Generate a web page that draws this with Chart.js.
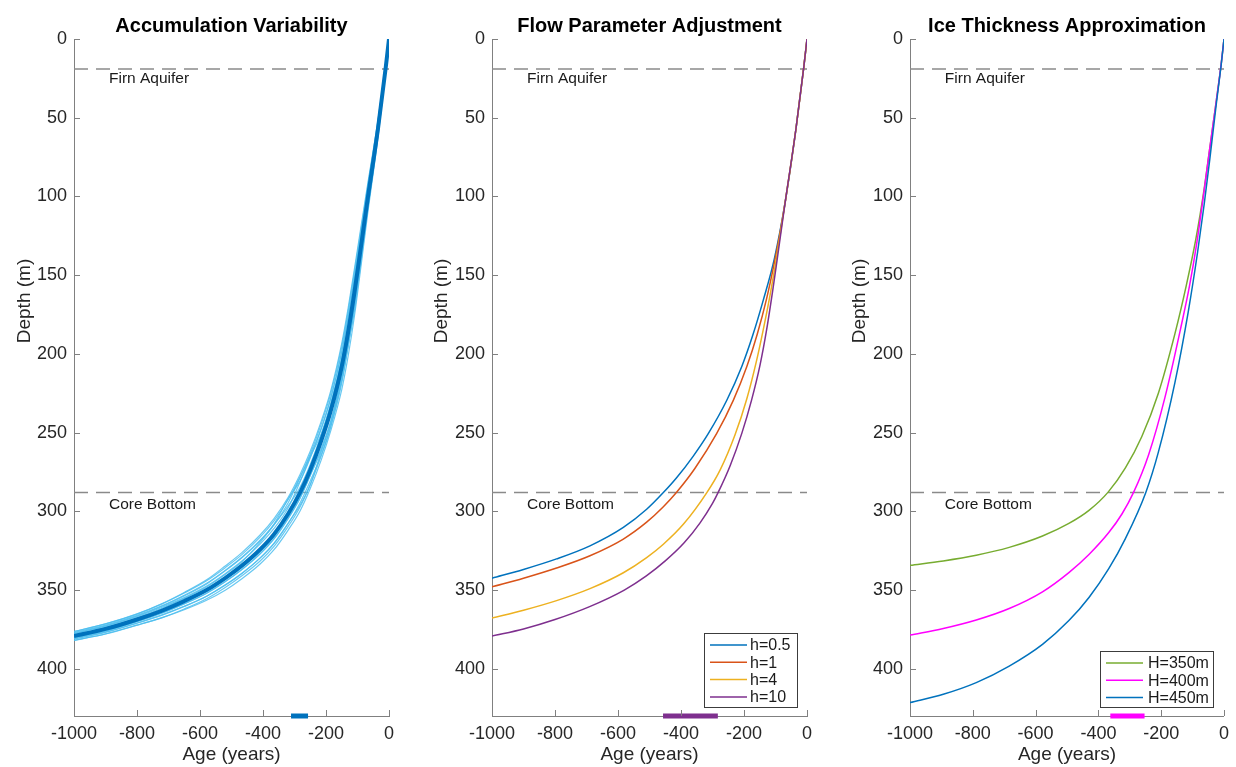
<!DOCTYPE html>
<html>
<head>
<meta charset="utf-8">
<title>Age-depth sensitivity</title>
<script src="https://cdn.jsdelivr.net/npm/chart.js@4.4.0/dist/chart.umd.min.js"></script>
<style>
  html, body { margin: 0; padding: 0; background: #fff; }
  #wrap { position: relative; width: 1236px; height: 767px; }
  canvas { position: absolute; top: 0; }
</style>
</head>
<body>
<div id="wrap">
  <canvas id="accum" width="412" height="767" style="left:0px"></canvas>
  <canvas id="flow" width="418" height="767" style="left:412px"></canvas>
  <canvas id="thick" width="406" height="767" style="left:830px"></canvas>
</div>
<script>
// shared axes
const ageTicks = [-1000, -800, -600, -400, -200, 0];
const depthTicks = [0, 50, 100, 150, 200, 250, 300, 350, 400];
const ageLimits = [-1000, 0];
const depthLimits = [0, 430];
const firnDepth = 19;
const coreDepth = 288;

// panel 1: accumulation variability (mean + ensemble runs)
const accumAges = [0, -10, -35, -68, -80, -94, -109, -130, -150, -185, -215, -250, -282, -320, -365, -410, -467, -520, -579, -650, -720, -800, -900, -1000];
const accumMean = [0, 17.5, 57, 102, 119, 139, 160, 186.5, 208, 236.2, 255, 273.7, 288, 301.5, 314.5, 324.4, 334.5, 342.4, 350, 357, 363, 368.7, 374.7, 379.2];
const accumRuns = [
  [0, 19.2, 62.5, 111.4, 130.2, 152.2, 175, 201.8, 222.7, 248.9, 267.3, 285.5, 299.6, 311.9, 324.4, 333.6, 342.8, 350.1, 356.5, 362.5, 367.5, 372.3, 377.9, 382],
  [0, 15.8, 51.5, 92.6, 107.8, 125.8, 145, 171.2, 193.3, 223.5, 242.7, 261.9, 276.4, 291.1, 304.6, 315.2, 326.2, 334.7, 343.5, 351.5, 358.5, 365.1, 371.5, 376.4],
  [0, 18.5, 60.1, 107.3, 125.4, 146.6, 168.5, 195.2, 216.4, 243.5, 262, 283.2, 296, 307.4, 320.2, 329.7, 339.3, 346.7, 353.9, 360.4, 365.9, 371.1, 376.9, 381.2],
  [0, 16.4, 53.5, 96, 111.9, 130.6, 150.3, 176.7, 198.5, 227.9, 247.2, 266.1, 280.6, 292, 308.1, 318.5, 329.2, 337.5, 345.7, 353.3, 359.9, 366.1, 372.3, 377],
  [0, 18, 58.5, 104.7, 122.2, 142.8, 164.3, 190.8, 212.2, 244, 261.3, 277.1, 291.4, 304.4, 317.3, 327.1, 336.9, 344.6, 352, 358.8, 364.7, 370.1, 376.1, 380.5],
  [0, 16.9, 55, 98.6, 114.9, 134.2, 154.7, 181, 202.7, 231.6, 250.7, 265.3, 281, 297.7, 310.9, 321, 331.6, 339.6, 347.5, 354.8, 360.9, 366.9, 372.9, 377.7],
  [0, 18.9, 61.3, 109.3, 127.8, 149.4, 171.8, 194.3, 216.8, 246.3, 264.7, 282.9, 297.1, 309.6, 322.3, 331.7, 340.9, 348.4, 355.5, 362, 367.5, 372.3, 377.8, 381.9],
  [0, 16.1, 52.2, 94, 109.5, 127.8, 147.1, 173.3, 195.4, 225.3, 244.5, 263.6, 278.1, 292.5, 306, 316.6, 327.5, 335.8, 344.1, 351.9, 358.8, 365.3, 371.5, 376.3],
  [0, 18.5, 60.3, 107.6, 125.7, 146.9, 169, 195.7, 218.5, 246.2, 264, 280.7, 294.5, 307.7, 320.5, 329.9, 339.5, 347, 353.9, 360.3, 365.7, 370.9, 376.6, 380.9],
  [0, 16.5, 53.7, 96.4, 112.3, 131.1, 151, 177.3, 199.2, 228.6, 247.6, 264.7, 278.5, 294.5, 308.6, 318.9, 329.5, 337.8, 346.1, 353.7, 360.3, 366.5, 372.8, 377.5],
  [0, 18, 58.6, 104.8, 122.4, 143, 164.5, 192.5, 215.5, 242.7, 260, 277.3, 291.5, 304.6, 317.5, 327.2, 337, 344.7, 352, 358.7, 364.4, 369.8, 375.7, 380],
  [0, 17, 55.4, 99.2, 115.6, 135, 155.5, 181.9, 203.6, 232.4, 251.3, 270.2, 284.5, 296.5, 308.5, 319.9, 332, 340.1, 348, 355.3, 361.6, 367.6, 373.7, 378.4]
];
const accumRange = [-311, -257];

// panel 2: flow parameter
const flowLabels = ['h=0.5', 'h=1', 'h=4', 'h=10'];
const flowColors = ['#0072BD', '#D95319', '#EDB120', '#7E2F8E'];
const flowAges = [
  [0, -10, -35, -68, -103, -139, -173, -207, -255, -313, -361, -414, -456, -509, -583, -689, -795, -900, -1000],
  [0, -10, -35, -68, -86, -105, -128, -158, -191, -234, -287, -356, -414, -456, -509, -583, -689, -795, -900, -1000],
  [0, -10, -35, -68, -85, -101, -117, -139, -162, -191, -229, -276, -318, -392, -456, -509, -583, -689, -795, -900, -1000],
  [0, -10, -35, -68, -80, -94, -109, -128, -149, -176, -207, -244, -282, -300, -340, -390, -450, -510, -580, -690, -800, -900, -1000]
];
const flowDepths = [
  [0, 17.5, 57, 102, 139, 166, 188.7, 208, 229.6, 250.5, 264.9, 278.7, 288.1, 298.7, 310.2, 321.9, 330.2, 336.9, 342.5],
  [0, 17.5, 57, 102, 123.4, 143.5, 164.7, 187.5, 208, 229.5, 250.7, 272.8, 287.9, 297.1, 306.9, 317.6, 328.2, 336, 342.5, 348],
  [0, 17.5, 57, 102, 124.1, 143.9, 162.3, 184.7, 205.9, 228.5, 251.7, 273.8, 288.1, 308.1, 320.9, 329.4, 339, 349.1, 356.7, 362.8, 367.8],
  [0, 17.5, 57, 102, 119, 139, 160, 184.5, 207, 229.4, 250.5, 271, 288, 295, 307.5, 320, 331.5, 341, 350, 360.5, 368.7, 374.7, 379.2]
];
const flowRange = [-457, -283];

// panel 3: ice thickness
const thickLabels = ['H=350m', 'H=400m', 'H=450m'];
const thickColors = ['#77AC30', '#FF00FF', '#0072BD'];
const thickAges = [
  [0, -9, -25, -45, -63, -90, -120, -156, -209, -262, -314, -369, -430, -494, -578, -684, -789, -894, -1000],
  [0, -9, -25, -45, -63, -87, -110, -135, -188, -240, -288, -325, -367, -430, -494, -578, -684, -789, -894, -1000],
  [0, -9, -25, -45, -63, -84, -114, -156, -209, -249, -314, -367, -430, -494, -578, -684, -789, -894, -1000]
];
const thickDepths = [
  [0, 16, 40, 69, 95, 127.5, 156.5, 187, 225, 252.6, 272.4, 287.8, 299.4, 307.7, 315.7, 322.9, 327.9, 331.5, 334.3],
  [0, 16, 40, 69, 96, 130, 157, 181, 227.6, 264, 288, 301.7, 313.5, 327.4, 338.9, 351.1, 361.7, 369, 374.4, 378.6],
  [0, 16.5, 42, 76, 104.8, 135.3, 173.4, 217.9, 262.4, 288, 317.3, 336.4, 354.7, 369.4, 384.5, 398.3, 408.8, 416.2, 421.5]
];
const thickRange = [-362, -253];

const axisColor = '#808080';
const textColor = '#262626';
const fontFamily = 'Helvetica, Arial, "Liberation Sans", sans-serif';

function toPoints(ages, depths) {
  return ages.map((a, i) => ({ x: a, y: depths[i] }));
}

function curve(ages, depths, color, width, order, label) {
  return {
    label: label,
    data: toPoints(ages, depths),
    showLine: true,
    borderColor: color,
    borderWidth: width,
    pointRadius: 0,
    cubicInterpolationMode: 'monotone',
    order: order
  };
}

function refLine(depth) {
  return {
    data: [{ x: ageLimits[0], y: depth }, { x: ageLimits[1], y: depth }],
    showLine: true,
    borderColor: '#8a8a8a',
    borderWidth: 1.5,
    borderDash: [14, 8],
    pointRadius: 0,
    order: 5
  };
}

function rangeBar(range, color) {
  return {
    data: [{ x: range[0], y: depthLimits[1] }, { x: range[1], y: depthLimits[1] }],
    showLine: true,
    borderColor: color,
    borderWidth: 5,
    pointRadius: 0,
    clip: false,
    order: -1
  };
}

const decor = {
  id: 'decor',
  afterDraw(chart, args, o) {
    const { ctx, chartArea: a } = chart;
    const xs = chart.scales.x, ys = chart.scales.y;
    ctx.save();

    // inward tick marks
    ctx.strokeStyle = axisColor;
    ctx.lineWidth = 1;
    ctx.beginPath();
    ageTicks.forEach(v => {
      const px = Math.round(xs.getPixelForValue(v)) + 0.5;
      ctx.moveTo(px, a.bottom);
      ctx.lineTo(px, a.bottom - 6);
    });
    depthTicks.forEach(v => {
      const py = Math.round(ys.getPixelForValue(v)) + 0.5;
      ctx.moveTo(a.left, py);
      ctx.lineTo(a.left + 6, py);
    });
    ctx.stroke();

    // title
    const cx = (a.left + a.right) / 2;
    ctx.fillStyle = '#000';
    ctx.font = 'bold 20px ' + fontFamily;
    ctx.textAlign = 'center';
    ctx.textBaseline = 'alphabetic';
    ctx.fillText(o.title, cx, 32);

    // axis titles
    ctx.fillStyle = textColor;
    ctx.font = '19px ' + fontFamily;
    ctx.textBaseline = 'middle';
    ctx.fillText('Age (years)', cx, 755);
    ctx.save();
    ctx.translate(o.yTitleX, 301);
    ctx.rotate(-Math.PI / 2);
    ctx.fillText('Depth (m)', 0, 0);
    ctx.restore();

    // reference line labels
    ctx.fillStyle = '#1a1a1a';
    ctx.font = '15.5px ' + fontFamily;
    ctx.textAlign = 'left';
    ctx.fillText('Firn Aquifer', xs.getPixelForValue(-889), ys.getPixelForValue(25.5));
    ctx.fillText('Core Bottom', xs.getPixelForValue(-889), ys.getPixelForValue(295.5));

    // legend box
    if (o.legend) {
      const L = o.legend;
      const right = a.right - L.inset, bottom = a.bottom - 9;
      const left = right - L.width, top = bottom - L.height;
      ctx.fillStyle = '#fff';
      ctx.fillRect(left, top, L.width, L.height);
      ctx.strokeStyle = '#3c3c3c';
      ctx.lineWidth = 1;
      ctx.strokeRect(Math.round(left) + 0.5, Math.round(top) + 0.5, L.width, L.height);
      ctx.font = '16px ' + fontFamily;
      ctx.textBaseline = 'middle';
      L.labels.forEach((lab, i) => {
        const yy = top + 12 + i * L.step;
        ctx.strokeStyle = L.colors[i];
        ctx.lineWidth = 1.5;
        ctx.beginPath();
        ctx.moveTo(left + 6, yy);
        ctx.lineTo(left + 43, yy);
        ctx.stroke();
        ctx.fillStyle = '#1a1a1a';
        ctx.fillText(lab, left + L.textOffset, yy + 1);
      });
    }
    ctx.restore();
  }
};

function makePanel(id, datasets, o) {
  return new Chart(document.getElementById(id), {
    type: 'scatter',
    data: { datasets: datasets },
    options: {
      responsive: false,
      animation: false,
      events: [],
      layout: { padding: { left: 0, right: o.padRight, top: 39, bottom: 0 } },
      scales: {
        x: {
          type: 'linear',
          min: ageLimits[0],
          max: ageLimits[1],
          afterBuildTicks: s => { s.ticks = ageTicks.map(v => ({ value: v })); },
          afterFit: s => { s.height = 51; },
          grid: { display: false, drawTicks: false },
          border: { color: axisColor, width: 1 },
          ticks: {
            autoSkip: false, maxRotation: 0, padding: 7,
            color: textColor, font: { size: 18, family: fontFamily },
            callback: v => String(v)
          }
        },
        y: {
          type: 'linear',
          reverse: true,
          min: depthLimits[0],
          max: depthLimits[1],
          afterBuildTicks: s => { s.ticks = depthTicks.map(v => ({ value: v })); },
          afterFit: s => { s.width = o.yWidth; },
          grid: { display: false, drawTicks: false },
          border: { color: axisColor, width: 1 },
          ticks: {
            autoSkip: false, padding: 7,
            color: textColor, font: { size: 18, family: fontFamily },
            callback: v => String(v)
          }
        }
      },
      plugins: {
        legend: { display: false },
        tooltip: { enabled: false },
        decor: o
      }
    },
    plugins: [decor]
  });
}

// panel 1
const accumSets = [refLine(firnDepth), refLine(coreDepth)];
accumRuns.forEach(run => accumSets.push(curve(accumAges, run, 'rgba(77,190,238,0.85)', 1.2, 2)));
accumSets.push(curve(accumAges, accumMean, '#0072BD', 4, 1));
accumSets.push(rangeBar(accumRange, '#0072BD'));
makePanel('accum', accumSets, {
  title: 'Accumulation Variability', yTitleX: 25, yWidth: 74, padRight: 23
});

// panel 2
const flowSets = [refLine(firnDepth), refLine(coreDepth)];
flowLabels.forEach((lab, i) => flowSets.push(curve(flowAges[i], flowDepths[i], flowColors[i], 1.5, 4 - i, lab)));
flowSets.push(rangeBar(flowRange, '#7E2F8E'));
makePanel('flow', flowSets, {
  title: 'Flow Parameter Adjustment', yTitleX: 30, yWidth: 80, padRight: 23,
  legend: { labels: flowLabels, colors: flowColors, width: 93, height: 74, step: 17.3, inset: 10, textOffset: 46 }
});

// panel 3
const thickSets = [refLine(firnDepth), refLine(coreDepth)];
thickLabels.forEach((lab, i) => thickSets.push(curve(thickAges[i], thickDepths[i], thickColors[i], 1.5, 4 - i, lab)));
thickSets.push(rangeBar(thickRange, '#FF00FF'));
makePanel('thick', thickSets, {
  title: 'Ice Thickness Approximation', yTitleX: 30, yWidth: 80, padRight: 10,
  legend: { labels: thickLabels, colors: thickColors, width: 113, height: 56, step: 17.2, inset: 11, textOffset: 48 }
});
</script>
</body>
</html>
